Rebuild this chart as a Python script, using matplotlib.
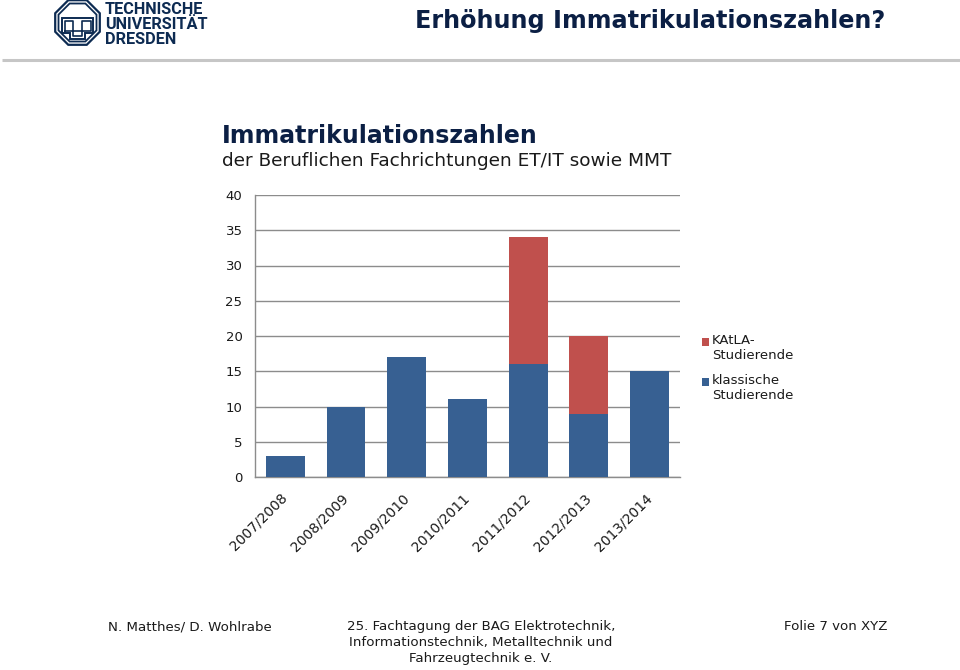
import numpy as np
import matplotlib
matplotlib.use("Agg")
import matplotlib.pyplot as plt
from matplotlib.patches import Polygon, Rectangle
from matplotlib import font_manager as fm

# ---------------- data ----------------
categories = ["2007/2008", "2008/2009", "2009/2010", "2010/2011",
              "2011/2012", "2012/2013", "2013/2014"]
klassische = [3, 10, 17, 11, 16, 9, 15]
katla = [0, 0, 0, 0, 18, 11, 0]
y_ticks = [0, 5, 10, 15, 20, 25, 30, 35, 40]
series_labels = ["KAtLA-\nStudierende", "klassische\nStudierende"]

title_main = "Immatrikulationszahlen"
title_sub = "der Beruflichen Fachrichtungen ET/IT sowie MMT"
header = "Erhöhung Immatrikulationszahlen?"
footer_left = "N. Matthes/ D. Wohlrabe"
footer_mid = ["25. Fachtagung der BAG Elektrotechnik,",
              "Informationstechnik, Metalltechnik und",
              "Fahrzeugtechnik e. V."]
footer_right = "Folie 7 von XYZ"
logo_lines = ["TECHNISCHE", "UNIVERSITÄT", "DRESDEN"]

# ---------------- style ----------------
BLUE = "#376092"
RED = "#C0504D"
NAVY = "#0b1f44"
LOGO = "#0d2b52"
GRID = "#8c8c8c"
TXT = "#1a1a1a"

plt.rcParams["font.family"] = ["DejaVu Sans"]
installed = {f.name for f in fm.fontManager.ttflist}
logo_font = "Roboto" if "Roboto" in installed else "Liberation Sans"

W, H = 960, 670
fig = plt.figure(figsize=(9.6, 6.7), dpi=100)
fig.patch.set_facecolor("white")

# decoration overlay in pixel coordinates
deco = fig.add_axes([0, 0, 1, 1], zorder=0)
deco.set_xlim(0, W)
deco.set_ylim(H, 0)
deco.axis("off")

# ---------------- main chart ----------------
x0, x1, yb, yt = 255, 680, 477, 195
ax = fig.add_axes([x0 / W, 1 - yb / H, (x1 - x0) / W, (yb - yt) / H], zorder=2)
ax.set_facecolor("none")
x = np.arange(len(categories))
bw = 0.64
ax.bar(x, klassische, width=bw, color=BLUE, zorder=3, label=series_labels[1])
ax.bar(x, katla, width=bw, bottom=klassische, color=RED, zorder=3, label=series_labels[0])
ax.set_xlim(-0.5, len(categories) - 0.5)
ax.set_ylim(0, 40)
ax.set_yticks(y_ticks)
ax.set_yticklabels([str(v) for v in y_ticks], fontsize=9.5, color=TXT)
ax.yaxis.grid(True, color=GRID, linewidth=1.0, zorder=0)
ax.set_axisbelow(True)
for s in ["top", "right"]:
    ax.spines[s].set_visible(False)
for s in ["left", "bottom"]:
    ax.spines[s].set_color(GRID)
    ax.spines[s].set_linewidth(1.0)
ax.tick_params(axis="y", length=0, pad=9)
ax.tick_params(axis="x", length=0, pad=13.5)
ax.set_xticks(x)
ax.set_xticklabels(categories, rotation=45, ha="right", va="center",
                   rotation_mode="anchor", fontsize=10, color=TXT)

# ---------------- legend (manual) ----------------
leg_items = [(RED, series_labels[0], 338), (BLUE, series_labels[1], 378)]
for col, lab, ytop in leg_items:
    deco.add_patch(Rectangle((701.5, ytop), 7.5, 7.5, color=col, lw=0))
    deco.text(712, ytop - 4, lab, fontsize=9.5, color=TXT,
              va="top", ha="left", linespacing=1.22)

# ---------------- titles ----------------
deco.text(222, 143.3, title_main, fontsize=17, fontweight="bold", color=NAVY,
          va="baseline", ha="left")
deco.text(222, 166, title_sub, fontsize=13.3, color=TXT,
          va="baseline", ha="left")
deco.text(415, 28.3, header, fontsize=17.2, fontweight="bold", color=NAVY,
          va="baseline", ha="left")

# separator line
deco.plot([2, 960], [60, 60], color="#c6c6c6", lw=2.2, solid_capstyle="butt")

# ---------------- logo ----------------
cx, cy = 77.5, 22.5
for apo, lw in [(22.3, 1.6), (19.0, 1.3)]:
    R = apo / np.cos(np.pi / 8)
    ang = np.pi / 8 + np.arange(8) * np.pi / 4
    pts = np.c_[cx + R * np.cos(ang), cy + R * np.sin(ang)]
    deco.add_patch(Polygon(pts, closed=True, fill=False, edgecolor=LOGO, lw=lw))
outer = [(62, 18), (93, 18), (93, 33), (85, 33), (85, 38.5), (70, 38.5), (70, 33), (62, 33)]
deco.add_patch(Polygon(outer, closed=True, fill=False, edgecolor=LOGO, lw=1.4))
inner = [(64.5, 30.5), (64.5, 20.5), (73, 20.5), (73, 36), (82, 36),
         (82, 20.5), (90.5, 20.5), (90.5, 30.5), (64.5, 30.5)]
deco.plot([p[0] for p in inner], [p[1] for p in inner], color=LOGO, lw=1.2)
for i, line in enumerate(logo_lines):
    deco.text(105, 14 + 15 * i, line, fontsize=11.7, fontweight="bold",
              color=LOGO, family=logo_font, va="baseline", ha="left")

# ---------------- footer ----------------
deco.text(108, 630, footer_left, fontsize=9.6, color=TXT, va="baseline", ha="left")
for i, line in enumerate(footer_mid):
    deco.text(481, 630 + 16 * i, line, fontsize=9.6, color=TXT,
              va="baseline", ha="center")
deco.text(784, 630, footer_right, fontsize=9.6, color=TXT, va="baseline", ha="left")

fig.savefig("out.png", dpi=100, facecolor="white")
